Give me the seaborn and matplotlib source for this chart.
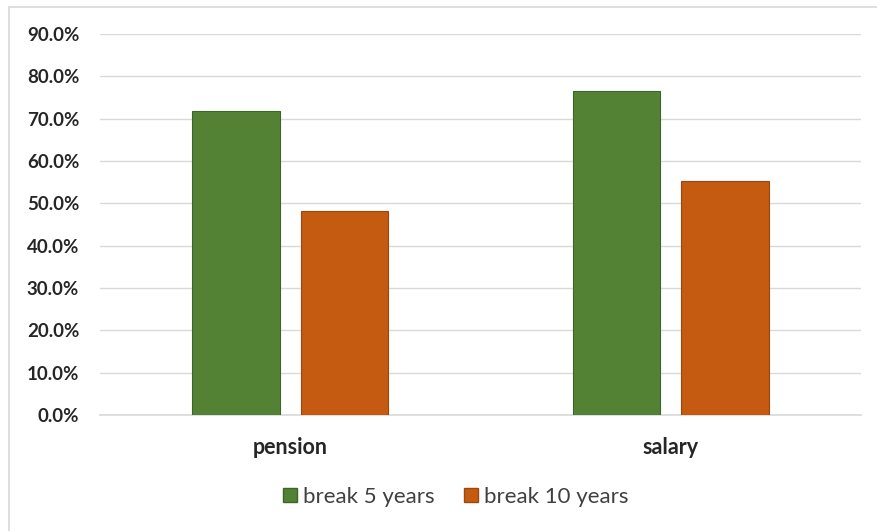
import pandas as pd
import seaborn as sns
import matplotlib.pyplot as plt
from matplotlib.lines import Line2D
from matplotlib.patches import Patch

sns.set_style("white")
plt.rcParams['font.family'] = ['Lato', 'DejaVu Sans']

# data
categories = ['pension', 'salary']
series = ['break 5 years', 'break 10 years']
break_5 = [0.718, 0.765]
break_10 = [0.483, 0.553]
y_ticks = [0.0, 0.1, 0.2, 0.3, 0.4, 0.5, 0.6, 0.7, 0.8, 0.9]

df = pd.DataFrame({
    'category': categories * 2,
    'series': [series[0]] * 2 + [series[1]] * 2,
    'value': break_5 + break_10,
})

colors = {'break 5 years': '#548235', 'break 10 years': '#C55A11'}
edges = {'break 5 years': '#3F6428', 'break 10 years': '#9E470D'}

fig = plt.figure(figsize=(8.77, 5.31), dpi=100)
ax = fig.add_axes([100 / 877, 1 - 415 / 531, 761 / 877, 381 / 531])

sns.barplot(data=df, x='category', y='value', hue='series', palette=colors,
            saturation=1, width=0.57, gap=0.19, ax=ax, legend=False, zorder=3)

for bar, s in zip(ax.patches, [series[0]] * 2 + [series[1]] * 2):
    bar.set_edgecolor(edges[s])
    bar.set_linewidth(0.8)

ax.set_xlim(-0.5, 1.5)
ax.set_ylim(0, 0.9)
ax.set_yticks(y_ticks)
ax.set_yticklabels([f'{v * 100:.1f}%' for v in y_ticks], fontsize=13.5,
                   fontweight='bold', color='#262626')
ax.set_xticks(range(len(categories)))
ax.set_xticklabels(categories, fontsize=15.5, fontweight='bold', color='#262626')
ax.tick_params(axis='y', length=0, pad=15)
ax.tick_params(axis='x', length=0, pad=16)
ax.set_xlabel('')
ax.set_ylabel('')
ax.yaxis.grid(True, color='#D9D9D9', linewidth=1.0, zorder=0)
ax.set_axisbelow(True)
for side in ['top', 'right', 'left']:
    ax.spines[side].set_visible(False)
ax.spines['bottom'].set_color('#D9D9D9')
ax.spines['bottom'].set_linewidth(1.2)

handles = [Patch(facecolor=colors[s], edgecolor=edges[s], label=s) for s in series]
fig.legend(handles=handles, loc='center', bbox_to_anchor=(456 / 877, 1 - 497 / 531),
           ncol=2, frameon=False, fontsize=16, handlelength=0.62, handleheight=0.62,
           handletextpad=0.3, columnspacing=1.3, labelcolor='#404040')

# chart area border (top and left edges visible in the crop)
fig.add_artist(Line2D([8.5 / 877, 8.5 / 877], [0, 1 - 7 / 531],
                      transform=fig.transFigure, color='#D9D9D9', linewidth=1.2))
fig.add_artist(Line2D([8.5 / 877, 1], [1 - 7 / 531, 1 - 7 / 531],
                      transform=fig.transFigure, color='#D9D9D9', linewidth=1.2))

fig.savefig('out.png', dpi=100)
plt.close(fig)
